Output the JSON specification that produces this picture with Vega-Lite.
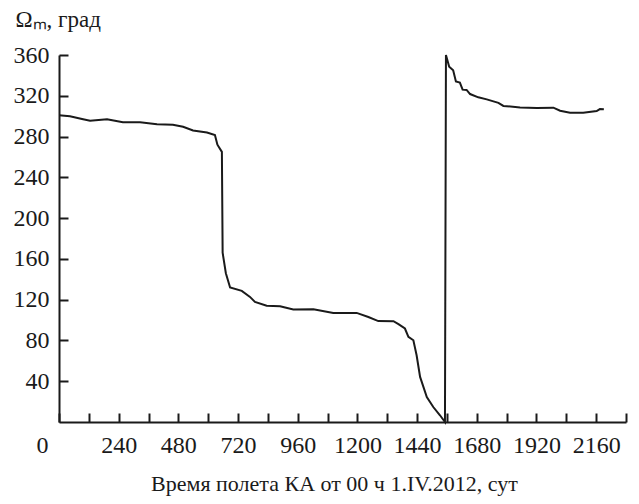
{
  "$schema": "https://vega.github.io/schema/vega-lite/v6.json",
  "width": 567,
  "height": 367,
  "autosize": "none",
  "padding": {"left": 59, "top": 55, "right": 13, "bottom": 82},
  "background": "white",
  "config": {"view": {"stroke": null}, "font": "Liberation Serif"},
  "data": {"values": [
    {"day": 0, "omega": 301}, {"day": 44, "omega": 300}, {"day": 97, "omega": 297}, {"day": 125, "omega": 295.5},
    {"day": 193, "omega": 297}, {"day": 257, "omega": 294}, {"day": 326, "omega": 294}, {"day": 394, "omega": 292},
    {"day": 458, "omega": 291.6}, {"day": 499, "omega": 289.6}, {"day": 539, "omega": 286}, {"day": 595, "omega": 284},
    {"day": 627, "omega": 281.5}, {"day": 637, "omega": 272}, {"day": 655, "omega": 265}, {"day": 658, "omega": 166},
    {"day": 671, "omega": 146}, {"day": 688, "omega": 132}, {"day": 735, "omega": 128.6}, {"day": 768, "omega": 122.7},
    {"day": 788, "omega": 117.8}, {"day": 835, "omega": 114}, {"day": 889, "omega": 113.6}, {"day": 942, "omega": 110.3},
    {"day": 1023, "omega": 110.6}, {"day": 1103, "omega": 107}, {"day": 1197, "omega": 107}, {"day": 1244, "omega": 103},
    {"day": 1284, "omega": 99}, {"day": 1345, "omega": 98.9}, {"day": 1365, "omega": 96}, {"day": 1391, "omega": 91.7},
    {"day": 1405, "omega": 83.5}, {"day": 1425, "omega": 80.2}, {"day": 1438, "omega": 65.5}, {"day": 1452, "omega": 44.2},
    {"day": 1479, "omega": 24.5}, {"day": 1505, "omega": 14.7}, {"day": 1532, "omega": 6.6}, {"day": 1552, "omega": 0},
    {"day": 1556, "omega": 360}, {"day": 1569, "omega": 348.5}, {"day": 1585, "omega": 345}, {"day": 1596, "omega": 334},
    {"day": 1612, "omega": 333}, {"day": 1623, "omega": 326}, {"day": 1639, "omega": 325.7}, {"day": 1653, "omega": 321.7},
    {"day": 1686, "omega": 318.5}, {"day": 1720, "omega": 316.5}, {"day": 1767, "omega": 313}, {"day": 1787, "omega": 310},
    {"day": 1854, "omega": 308.6}, {"day": 1921, "omega": 308}, {"day": 1988, "omega": 308.3}, {"day": 2015, "omega": 305.3},
    {"day": 2055, "omega": 303.4}, {"day": 2108, "omega": 303.4}, {"day": 2162, "omega": 305}, {"day": 2175, "omega": 307},
    {"day": 2191, "omega": 306.7}
  ]},
  "mark": {"type": "line", "color": "#1a1a1a", "strokeWidth": 2, "interpolate": "linear"},
  "encoding": {
    "x": {
      "field": "day", "type": "quantitative",
      "scale": {"domain": [0, 2280], "nice": false, "zero": false},
      "axis": {
        "title": "Время полета КА от 00 ч 1.IV.2012, сут",
        "titleFont": "Liberation Serif", "titleFontSize": 22, "titleFontWeight": "normal", "titleColor": "#1a1a1a",
        "titleX": 275, "titleAlign": "center", "titleY": 68, "titleBaseline": "alphabetic",
        "values": [0,120,240,360,480,600,720,840,960,1080,1200,1320,1440,1560,1680,1800,1920,2040,2160,2280],
        "labelExpr": "datum.value % 240 == 0 && datum.value < 2280 ? datum.label : ''",
        "format": "d",
        "labelFont": "Liberation Serif", "labelFontSize": 24, "labelColor": "#1a1a1a",
        "labelOffset": {"condition": {"test": "datum.value == 0", "value": -17}, "value": 0},
        "labelPadding": 20,
        "labelFlush": false, "labelOverlap": false,
        "tickSize": -9, "tickWidth": 2, "tickColor": "#1a1a1a",
        "domainWidth": 2, "domainColor": "#1a1a1a",
        "grid": false
      }
    },
    "y": {
      "field": "omega", "type": "quantitative",
      "scale": {"domain": [0, 360], "nice": false},
      "axis": {
        "title": "Ωₘ, град",
        "titleAngle": 0, "titleAlign": "left", "titleBaseline": "alphabetic",
        "titleX": -44, "titleY": -29,
        "titleFont": "Liberation Serif", "titleFontSize": 23, "titleFontWeight": "normal", "titleColor": "#1a1a1a",
        "values": [40,80,120,160,200,240,280,320,360],
        "labelFont": "Liberation Serif", "labelFontSize": 24, "labelColor": "#1a1a1a",
        "labelPadding": 19,
        "labelFlush": false, "labelOverlap": false,
        "tickSize": -9, "tickWidth": 2, "tickColor": "#1a1a1a",
        "domainWidth": 2, "domainColor": "#1a1a1a",
        "grid": false
      }
    }
  }
}
